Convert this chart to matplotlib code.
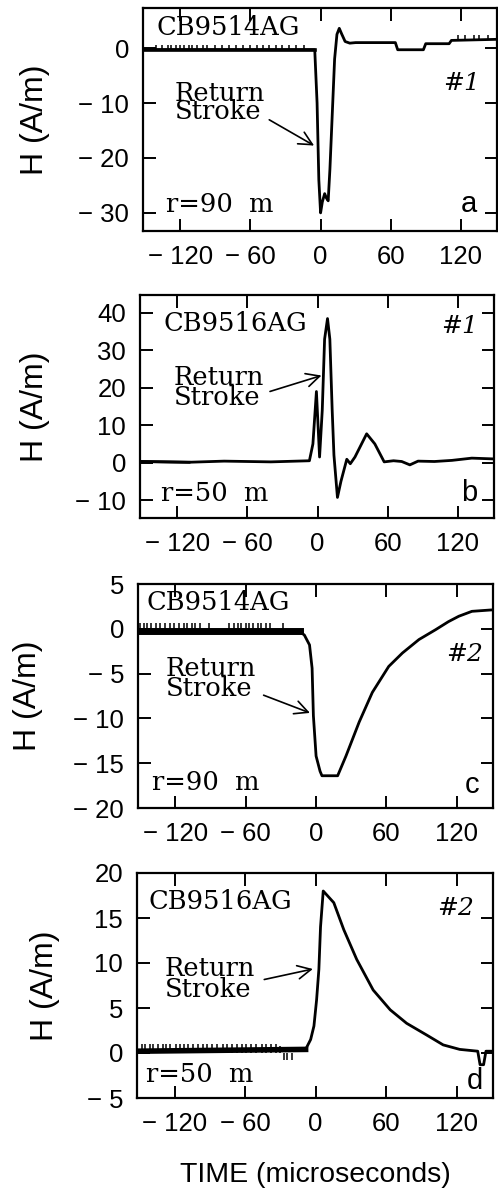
import numpy as np
import matplotlib.pyplot as plt

# Magnetic field waveforms, H (A/m) vs time (microseconds)
# a: CB9514AG stroke #1, r=90 m
t_a = [-152, -5, -3, -1.5, 0, 1.5, 3.5, 5, 6.5, 8, 10, 12, 14, 16, 18, 21, 25,
       30, 64, 66, 88, 90, 110, 112, 152]
h_a = [-0.3, -0.3, -10, -24, -30, -28, -26.5, -27.3, -27.8, -22, -12, -2, 2.5,
       3.6, 2.6, 1.2, 0.9, 1.0, 1.0, -0.3, -0.3, 0.8, 0.8, 1.4, 1.6]
spike_t_a = [-141, -136, -131, -128, -124, -120, -117, -113, -110, -106, -101,
             -97, -90, -84, -78, -72, -66, -60, -54, -49, -44, -38, -33, -27,
             -21, -14, 118, 124, 131, 136, 143]
spike_lo_a = [-0.3] * 26 + [1.4] * 5
spike_hi_a = [0.6] * 26 + [2.3] * 5

# b: CB9516AG stroke #1, r=50 m
t_b = [-152, -110, -80, -40, -7, -4, -1, 1.7, 4, 6, 8.5, 10.5, 12.5, 14, 17,
       20, 25, 28, 32, 42, 49, 57, 65, 72, 79, 86, 100, 115, 132, 150]
h_b = [0.3, 0.1, 0.4, 0.2, 0.5, 5, 19, 1.5, 14, 33, 38.5, 33, 14, 2, -9.3,
       -5, 0.9, -0.3, 1.5, 7.7, 5, 0.2, 0.5, 0.3, -0.6, 0.4, 0.3, 0.6, 1.2, 1.0]

# c: CB9514AG stroke #2, r=90 m
t_c = [-152, -14, -10, -5.6, -3.4, -2.3, 0, 3.4, 5, 18.4, 25.5, 36.8, 48, 62,
       73.7, 87.8, 102, 113, 121.8, 133, 149]
h_c = [-0.3, -0.3, -0.7, -1.8, -4.4, -9.7, -14.2, -15.9, -16.4, -16.4, -14.2,
       -10.4, -7.1, -4.2, -2.7, -1.2, -0.1, 0.8, 1.4, 1.95, 2.1]
spike_t_c = [-150, -147, -144, -141, -137, -133, -129, -125, -121, -117, -113,
             -110, -106, -103, -99, -91, -74, -70, -67, -64, -60, -57, -54,
             -50, -47, -43, -39, -28]
spike_lo_c = [-0.6] * 28
spike_hi_c = [0.6] * 28

# d: CB9516AG stroke #2, r=50 m
t_d = [-152, -8.5, -4.2, -1.4, 0.85, 2.8, 4.2, 6.5, 15.5, 24, 35, 49, 63.5,
       77.5, 94.5, 108.6, 122.7, 138, 140, 143, 145, 150]
h_d = [0.2, 0.4, 1.5, 3, 5.9, 9.3, 14, 18, 16.7, 13.7, 10.4, 7, 4.8, 3.3, 2,
       0.9, 0.4, 0.2, -1.3, -1.3, 0.2, 0.2]
spike_t_d = [-148, -145, -141, -138, -134, -130, -127, -124, -119, -115, -112,
             -109, -104, -100, -96, -92, -88, -84, -79, -75, -71, -67, -63,
             -59, -55, -51, -46, -42, -38, -34, -30, -27, -24, -20]
spike_lo_d = [0.0] * 34
spike_hi_d = [1.0] * 30 + [0.8, -0.8, -0.8, -0.8]

x_ticks = [-120, -60, 0, 60, 120]

panels = [
    dict(t=t_a, h=h_a, st=spike_t_a, slo=spike_lo_a, shi=spike_hi_a, base_lw=2.6,
         rect=(143, 8, 497, 231), ylim=(-33.3, 7.3), yticks=[-30, -20, -10, 0],
         ylab_x=50,
         name="CB9514AG", name_xy=(-140.6, 2.4), num="#1", num_xy=(104.5, -7.6),
         ret_xy=(-125, -12.9), ret_ls=0.66,
         arrow=((-46, -12.8), (-3.5, -18)),
         dist="r=90  m", dist_xy=(-132, -29.8), tag="a", tag_xy=(134, -29.8)),
    dict(t=t_b, h=h_b, st=[], slo=[], shi=[], base_lw=2.0,
         rect=(140, 295, 494, 518), ylim=(-14.8, 44.8),
         yticks=[-10, 0, 10, 20, 30, 40], ylab_x=50,
         name="CB9516AG", name_xy=(-131.6, 35.2), num="#1", num_xy=(105.8, 34.7),
         ret_xy=(-123, 15.5), ret_ls=0.74,
         arrow=((-43, 18.8), (5.6, 23.5)),
         dist="r=50  m", dist_xy=(-134, -10.3), tag="b", tag_xy=(137, -10.3)),
    dict(t=t_c, h=h_c, st=spike_t_c, slo=spike_lo_c, shi=spike_hi_c, base_lw=5,
         rect=(138, 584, 493, 808), ylim=(-20, 5), yticks=[-20, -15, -10, -5, 0, 5],
         ylab_x=43,
         name="CB9514AG", name_xy=(-144.8, 2.07), num="#2", num_xy=(111, -3.6),
         ret_xy=(-128.5, -7.5), ret_ls=0.74,
         arrow=((-47, -7.3), (-3, -9.5)),
         dist="r=90  m", dist_xy=(-139.8, -18), tag="c", tag_xy=(139.5, -18.3)),
    dict(t=t_d, h=h_d, st=spike_t_d, slo=spike_lo_d, shi=spike_hi_d, base_lw=4,
         rect=(137, 873, 493, 1098), ylim=(-5, 20), yticks=[-5, 0, 5, 10, 15, 20],
         ylab_x=60,
         name="CB9516AG", name_xy=(-142.5, 16), num="#2", num_xy=(103, 15.3),
         ret_xy=(-128.5, 6.2), ret_ls=0.8,
         arrow=((-46, 8.1), (0, 9.4)),
         dist="r=50  m", dist_xy=(-144, -3.2), tag="d", tag_xy=(142.6, -4)),
]


def tick_text(v):
    return "\u2212 " + str(abs(v)) if v < 0 else str(v)


W, H = 498, 1190
fig = plt.figure(figsize=(W / 100, H / 100), dpi=100)
serif = "DejaVu Serif"
sans = "Liberation Sans"

for p in panels:
    x0, y0, x1, y1 = p["rect"]
    ax = fig.add_axes([x0 / W, 1 - y1 / H, (x1 - x0) / W, (y1 - y0) / H])
    # quiet pre-stroke baseline drawn a bit heavier, like the digitizer band
    ax.plot(p["t"][:2], p["h"][:2], color="black", lw=p["base_lw"])
    ax.plot(p["t"], p["h"], color="black", lw=2.0, solid_joinstyle="round")
    if p["st"]:
        ax.vlines(p["st"], p["slo"], p["shi"], color="black", lw=1.1)
    ax.set_xlim(-152, 151)
    ax.set_ylim(*p["ylim"])
    ax.set_xticks(x_ticks)
    ax.set_xticklabels([tick_text(v) for v in x_ticks])
    ax.set_yticks(p["yticks"])
    ax.set_yticklabels([tick_text(v) for v in p["yticks"]])
    ax.tick_params(direction="in", length=9, width=1.4, top=True, right=True,
                   labelsize=18.5, pad=10)
    for lab in ax.get_xticklabels() + ax.get_yticklabels():
        lab.set_fontfamily(sans)
    for s in ax.spines.values():
        s.set_linewidth(1.6)
    ax.set_ylabel("H (A/m)", fontsize=23, fontfamily=sans)
    ax.yaxis.set_label_coords((p["ylab_x"] - x0) / (x1 - x0), 0.5)

    ax.text(*p["name_xy"], p["name"], fontsize=18.5, family=serif, va="baseline")
    ax.text(*p["num_xy"], p["num"], fontsize=18, family=serif, style="italic",
            va="baseline")
    ax.text(*p["ret_xy"], "Return\nStroke", fontsize=18.5, family=serif,
            va="baseline", linespacing=p["ret_ls"])
    ax.annotate("", xy=p["arrow"][1], xytext=p["arrow"][0],
                arrowprops=dict(arrowstyle="->", lw=1.2, color="black",
                                mutation_scale=24))
    ax.text(*p["dist_xy"], p["dist"], fontsize=18.5, family=serif, va="baseline")
    ax.text(*p["tag_xy"], p["tag"], fontsize=21, family=sans, va="baseline",
            ha="right")

fig.text(315 / W, 1 - 1175 / H, "TIME (microseconds)", fontsize=20.5,
         family=sans, ha="center", va="center")

fig.savefig("out.png", dpi=100)
